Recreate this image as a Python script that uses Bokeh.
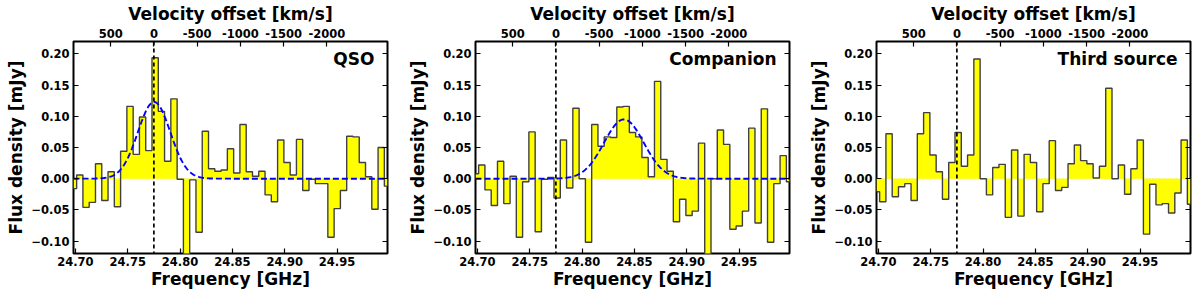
import numpy as np
from bokeh.plotting import figure
from bokeh.models import Range1d, LinearAxis, FixedTicker, CustomJSTickFormatter, Span, Label
from bokeh.layouts import row
from bokeh.embed import file_html
from bokeh.resources import INLINE

# ---------------- data ----------------
freq_ghz = [24.6982, 24.7042, 24.7102, 24.7162, 24.7222, 24.7282, 24.7342, 24.7402,
            24.7462, 24.7522, 24.7582, 24.7642, 24.7702, 24.7762, 24.7822, 24.7882,
            24.7942, 24.8002, 24.8062, 24.8122, 24.8182, 24.8242, 24.8302, 24.8362,
            24.8422, 24.8482, 24.8542, 24.8602, 24.8662, 24.8722, 24.8782, 24.8842,
            24.8902, 24.8962, 24.9022, 24.9082, 24.9142, 24.9202, 24.9262, 24.9322,
            24.9382, 24.9442, 24.9502, 24.9562, 24.9622, 24.9682, 24.9742, 24.9802,
            24.9862, 24.9922, 24.9982]

qso_flux = [-0.016, 0.006, -0.046, -0.038, 0.024, -0.035, 0.011, -0.045, 0.044, 0.116,
            0.039, 0.099, 0.045, 0.194, 0.108, 0.028, 0.128, -0.001, -0.140, -0.002,
            -0.086, 0.076, 0.016, 0.012, 0.014, 0.048, 0.009, 0.087, 0.011, 0.004,
            0.012, -0.026, -0.037, 0.062, 0.026, 0.006, 0.063, -0.019, -0.001, -0.008,
            -0.008, -0.094, -0.048, -0.019, 0.068, 0.067, 0.026, 0.003, -0.049, 0.050,
            -0.012]

companion_flux = [0.008, 0.022, -0.018, -0.043, 0.028, -0.040, 0.004, -0.094, -0.005, 0.075,
                  -0.085, -0.001, 0.002, -0.031, 0.062, -0.015, 0.113, 0.000, -0.102, 0.087,
                  0.052, 0.067, 0.066, 0.115, 0.116, 0.074, 0.067, 0.034, 0.003, 0.156,
                  0.031, 0.012, -0.069, -0.033, -0.059, -0.052, 0.057, -0.130, 0.000, 0.078,
                  0.055, -0.081, -0.076, -0.052, 0.081, -0.071, 0.112, -0.102, -0.008, 0.037,
                  -0.005]

third_flux = [-0.021, -0.037, 0.072, -0.029, -0.013, -0.008, -0.035, 0.072, 0.106, 0.038,
              0.011, -0.033, 0.026, 0.074, 0.020, 0.038, 0.192, 0.000, -0.026, 0.018,
              0.023, -0.062, 0.046, -0.060, 0.039, 0.026, -0.053, -0.008, 0.061, -0.019,
              -0.014, 0.024, 0.054, 0.029, 0.024, 0.001, 0.020, 0.145, 0.000, 0.022,
              -0.025, 0.016, 0.062, -0.089, -0.009, -0.042, -0.040, -0.055, -0.023, 0.062,
              -0.041]

panel_names = ["QSO", "Companion", "Third source"]
# Gaussian fit parameters (amplitude mJy, centre GHz, sigma GHz)
qso_fit = (0.123, 24.7752, 0.0155)
companion_fit = (0.095, 24.8400, 0.0190)

freq_ticks = [24.70, 24.75, 24.80, 24.85, 24.90, 24.95]
flux_ticks = [-0.10, -0.05, 0.0, 0.05, 0.10, 0.15, 0.20]
vel_ticks = [500, 0, -500, -1000, -1500, -2000]

x_title = "Frequency [GHz]"
y_title = "Flux density [mJy]"
top_title = "Velocity offset [km/s]"

F0 = 24.775          # line frequency (zero velocity), GHz
C_KMS = 299792.458
F_MIN, F_MAX = 24.6982, 24.9982
Y_MIN, Y_MAX = -0.12, 0.22

FONT = "DejaVu Sans"
FRAME_W = 314


def vel(f):
    return C_KMS * (1.0 - f / F0)


def style_axis(ax, show_labels=True):
    ax.axis_line_color = None
    ax.major_tick_in = 5
    ax.major_tick_out = 0
    ax.minor_tick_line_color = None
    ax.major_tick_line_color = "black"
    ax.major_tick_line_width = 1.2
    ax.major_label_text_font = FONT
    ax.major_label_text_font_style = "bold"
    ax.major_label_text_color = "black"
    ax.axis_label_text_font = FONT
    ax.axis_label_text_font_style = "bold"
    ax.axis_label_text_font_size = "17px"
    ax.axis_label_text_color = "black"
    ax.axis_label_standoff = 2
    if show_labels:
        ax.major_label_text_font_size = "11.5px"
        ax.major_label_standoff = 4
    else:
        ax.major_label_text_font_size = "0px"
        ax.major_label_standoff = 0


def make_panel(name, flux, fit, border_left, border_right):
    p = figure(width=border_left + FRAME_W + border_right, height=297,
               x_range=Range1d(F_MIN, F_MAX), y_range=Range1d(Y_MIN, Y_MAX),
               output_backend="svg", toolbar_location=None,
               min_border_left=border_left, min_border_right=border_right,
               min_border_top=40, min_border_bottom=44)
    p.grid.visible = False
    p.outline_line_color = "black"
    p.outline_line_width = 2
    p.outline_line_alpha = 1.0
    p.background_fill_color = "white"
    p.border_fill_color = "white"

    # bottom axis (frequency)
    xa = p.xaxis[0]
    xa.ticker = FixedTicker(ticks=freq_ticks)
    xa.formatter = CustomJSTickFormatter(code="return tick.toFixed(2);")
    xa.axis_label = x_title
    style_axis(xa)
    xa.major_label_standoff = 3
    xa.axis_label_standoff = 0

    # left axis (flux)
    ya = p.yaxis[0]
    ya.ticker = FixedTicker(ticks=flux_ticks)
    ya.formatter = CustomJSTickFormatter(
        code="return (tick < 0 ? '\u2212' : '') + Math.abs(tick).toFixed(2);")
    ya.axis_label = y_title
    style_axis(ya)

    # top axis (velocity)
    p.extra_x_ranges = {"vel": Range1d(vel(F_MIN), vel(F_MAX))}
    top = LinearAxis(x_range_name="vel", ticker=FixedTicker(ticks=vel_ticks),
                     formatter=CustomJSTickFormatter(code="return tick.toFixed(0);"),
                     axis_label=top_title)
    style_axis(top)
    p.add_layout(top, "above")

    # right axis (ticks only)
    right = LinearAxis(ticker=FixedTicker(ticks=flux_ticks),
                       formatter=CustomJSTickFormatter(code="return '';"))
    style_axis(right, show_labels=False)
    p.add_layout(right, "right")

    # zero line (yellow dotted)
    p.add_layout(Span(location=0, dimension="width", line_color="#e8e800",
                      line_dash="1 2", line_width=1, level="underlay"))

    # filled step spectrum
    zeros = [0.0] * len(freq_ghz)
    p.varea_step(x=freq_ghz, y1=zeros, y2=flux, step_mode="center",
                 fill_color="#ffff00", fill_alpha=1.0)
    p.step(x=freq_ghz, y=flux, mode="center", line_color="#404040", line_width=1.4)

    # Gaussian fit
    if fit is not None:
        amp, mu, sig = fit
        xs = np.linspace(F_MIN, F_MAX, 500)
        ys = amp * np.exp(-0.5 * ((xs - mu) / sig) ** 2)
        p.line(xs, ys, line_color="#0000ff", line_dash="6 3", line_width=1.9)

    # zero velocity marker
    p.add_layout(Span(location=F0, dimension="height", line_color="black",
                      line_dash="4 3", line_width=1.7))

    p.add_layout(Label(x=F_MAX - 13.0 / 1047.0, y=0.192, text=name,
                       text_align="right", text_baseline="alphabetic",
                       text_font=FONT, text_font_style="bold",
                       text_font_size="17px", text_color="black"))
    return p


p1 = make_panel(panel_names[0], qso_flux, qso_fit, 73, 16)
p2 = make_panel(panel_names[1], companion_flux, companion_fit, 72, 16)
p3 = make_panel(panel_names[2], third_flux, None, 71, 8)

layout = row(p1, p2, p3)
open("out.html", "w").write(file_html(layout, INLINE))
